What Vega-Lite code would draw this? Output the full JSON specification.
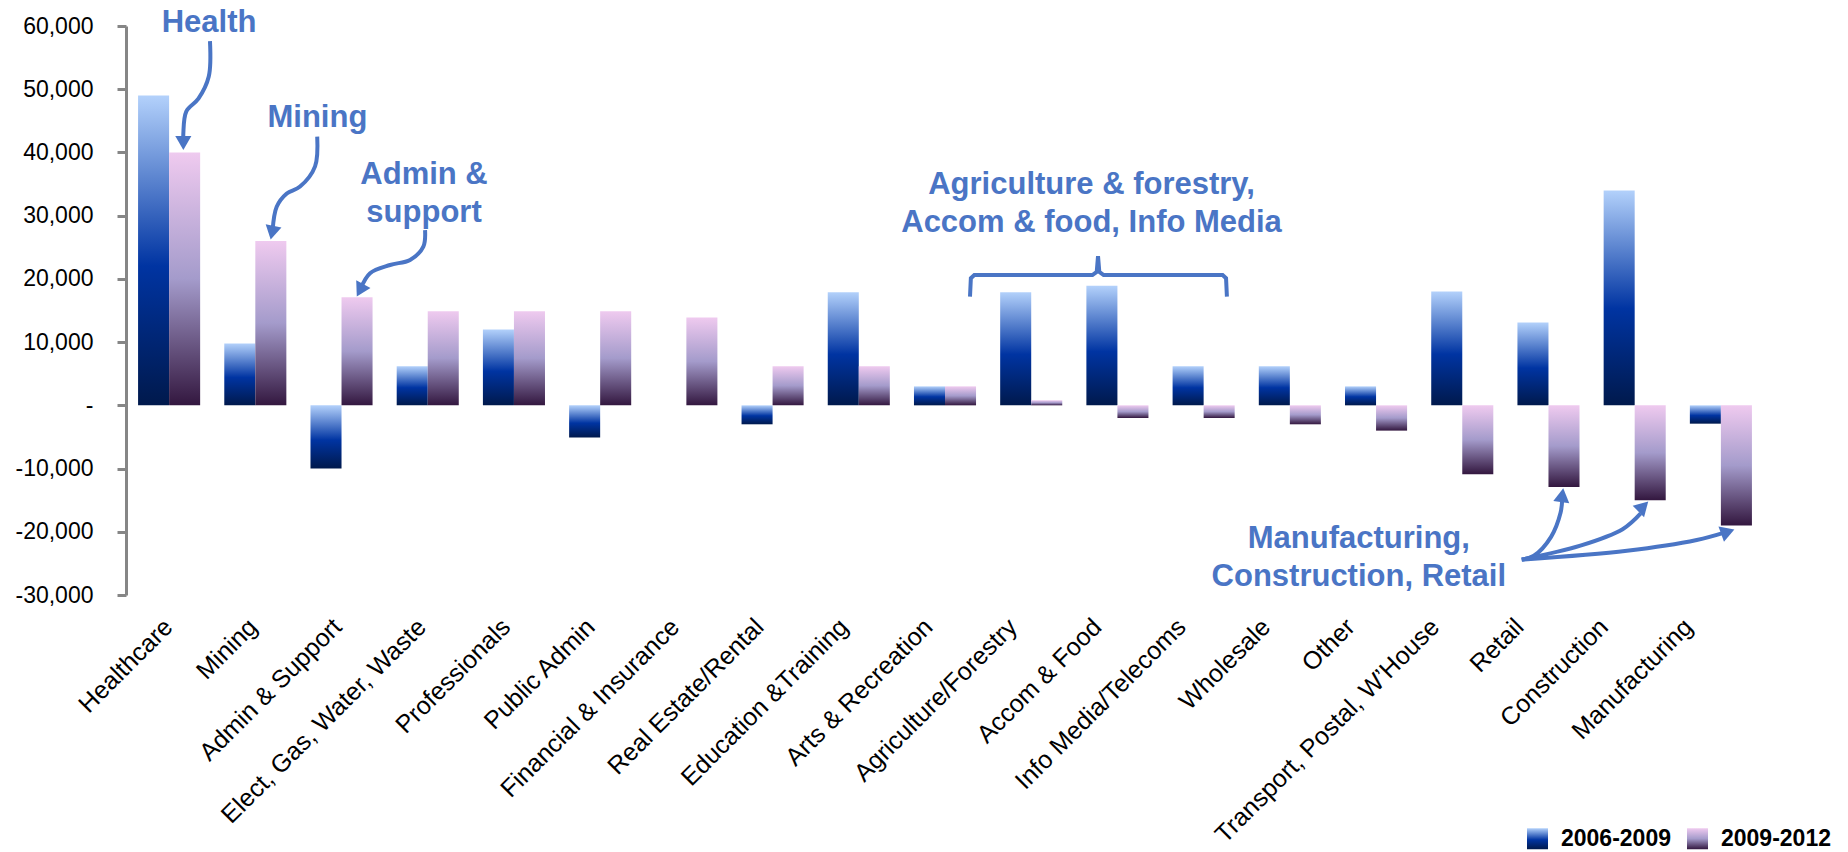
{
  "$schema": "https://vega.github.io/schema/vega-lite/v6.json",
  "width": 1638,
  "height": 569,
  "autosize": {"type": "none"},
  "padding": {"left": 126, "top": 26, "right": 84, "bottom": 257},
  "background": "white",
  "config": {"font": "Liberation Sans", "view": {"stroke": null}},
  "datasets": {
    "bars": [
      {"category": "Healthcare", "series": "2006-2009", "value": 49000},
      {"category": "Healthcare", "series": "2009-2012", "value": 40000},
      {"category": "Mining", "series": "2006-2009", "value": 9800},
      {"category": "Mining", "series": "2009-2012", "value": 26000},
      {"category": "Admin & Support", "series": "2006-2009", "value": -10000},
      {"category": "Admin & Support", "series": "2009-2012", "value": 17100},
      {"category": "Elect, Gas, Water, Waste", "series": "2006-2009", "value": 6200},
      {"category": "Elect, Gas, Water, Waste", "series": "2009-2012", "value": 14900},
      {"category": "Professionals", "series": "2006-2009", "value": 12000},
      {"category": "Professionals", "series": "2009-2012", "value": 14900},
      {"category": "Public Admin", "series": "2006-2009", "value": -5100},
      {"category": "Public Admin", "series": "2009-2012", "value": 14900},
      {"category": "Financial & Insurance", "series": "2006-2009", "value": 0},
      {"category": "Financial & Insurance", "series": "2009-2012", "value": 13900},
      {"category": "Real Estate/Rental", "series": "2006-2009", "value": -3000},
      {"category": "Real Estate/Rental", "series": "2009-2012", "value": 6200},
      {"category": "Education &Training", "series": "2006-2009", "value": 17900},
      {"category": "Education &Training", "series": "2009-2012", "value": 6200},
      {"category": "Arts & Recreation", "series": "2006-2009", "value": 3000},
      {"category": "Arts & Recreation", "series": "2009-2012", "value": 3000},
      {"category": "Agriculture/Forestry", "series": "2006-2009", "value": 17900},
      {"category": "Agriculture/Forestry", "series": "2009-2012", "value": 800},
      {"category": "Accom & Food", "series": "2006-2009", "value": 18900},
      {"category": "Accom & Food", "series": "2009-2012", "value": -2000},
      {"category": "Info Media/Telecoms", "series": "2006-2009", "value": 6200},
      {"category": "Info Media/Telecoms", "series": "2009-2012", "value": -2000},
      {"category": "Wholesale", "series": "2006-2009", "value": 6200},
      {"category": "Wholesale", "series": "2009-2012", "value": -3000},
      {"category": "Other", "series": "2006-2009", "value": 3000},
      {"category": "Other", "series": "2009-2012", "value": -4000},
      {"category": "Transport, Postal, W’House", "series": "2006-2009", "value": 18000},
      {"category": "Transport, Postal, W’House", "series": "2009-2012", "value": -10900},
      {"category": "Retail", "series": "2006-2009", "value": 13100},
      {"category": "Retail", "series": "2009-2012", "value": -12900},
      {"category": "Construction", "series": "2006-2009", "value": 34000},
      {"category": "Construction", "series": "2009-2012", "value": -15000},
      {"category": "Manufacturing", "series": "2006-2009", "value": -2900},
      {"category": "Manufacturing", "series": "2009-2012", "value": -19000}
    ],
    "arrows": [
      {"id": "health", "k": 0, "u": 0.974, "value": 57600},
      {"id": "health", "k": 1, "u": 0.96, "value": 52000},
      {"id": "health", "k": 2, "u": 0.84, "value": 48500},
      {"id": "health", "k": 3, "u": 0.70, "value": 46500},
      {"id": "health", "k": 4, "u": 0.665, "value": 43000},
      {"id": "health", "k": 5, "u": 0.665, "value": 41800},
      {"id": "mining", "k": 0, "u": 2.218, "value": 42500},
      {"id": "mining", "k": 1, "u": 2.193, "value": 37800},
      {"id": "mining", "k": 2, "u": 2.019, "value": 34600},
      {"id": "mining", "k": 3, "u": 1.865, "value": 33500},
      {"id": "mining", "k": 4, "u": 1.748, "value": 31400},
      {"id": "mining", "k": 5, "u": 1.70, "value": 27600},
      {"id": "admin", "k": 0, "u": 3.469, "value": 27700},
      {"id": "admin", "k": 1, "u": 3.449, "value": 25100},
      {"id": "admin", "k": 2, "u": 3.295, "value": 23000},
      {"id": "admin", "k": 3, "u": 3.063, "value": 22200},
      {"id": "admin", "k": 4, "u": 2.831, "value": 20900},
      {"id": "admin", "k": 5, "u": 2.72, "value": 18400},
      {"id": "retail", "k": 0, "u": 16.19, "value": -24400},
      {"id": "retail", "k": 1, "u": 16.33, "value": -23800},
      {"id": "retail", "k": 2, "u": 16.53, "value": -20800},
      {"id": "retail", "k": 3, "u": 16.64, "value": -17000},
      {"id": "retail", "k": 4, "u": 16.66, "value": -14700},
      {"id": "construction", "k": 0, "u": 16.19, "value": -24400},
      {"id": "construction", "k": 1, "u": 16.87, "value": -22200},
      {"id": "construction", "k": 2, "u": 17.36, "value": -19600},
      {"id": "construction", "k": 3, "u": 17.57, "value": -17100},
      {"id": "manufacturing", "k": 0, "u": 16.19, "value": -24400},
      {"id": "manufacturing", "k": 1, "u": 17.41, "value": -23000},
      {"id": "manufacturing", "k": 2, "u": 18.22, "value": -21300},
      {"id": "manufacturing", "k": 3, "u": 18.55, "value": -20100}
    ],
    "brace": [
      {"k": 0, "u": 9.79, "value": 17200},
      {"k": 1, "u": 9.80, "value": 20100},
      {"k": 2, "u": 9.84, "value": 20600},
      {"k": 3, "u": 11.21, "value": 20600},
      {"k": 4, "u": 11.26, "value": 21100},
      {"k": 5, "u": 11.275, "value": 23600},
      {"k": 6, "u": 11.29, "value": 21100},
      {"k": 7, "u": 11.34, "value": 20600},
      {"k": 8, "u": 12.72, "value": 20600},
      {"k": 9, "u": 12.76, "value": 20100},
      {"k": 10, "u": 12.77, "value": 17200}
    ],
    "heads": [
      {"u": 0.665, "value": 41500, "dir": 180},
      {"u": 1.695, "value": 27300, "dir": 192},
      {"u": 2.715, "value": 18200, "dir": 208},
      {"u": 16.66, "value": -14200, "dir": 8},
      {"u": 17.6, "value": -16000, "dir": 45},
      {"u": 18.58, "value": -20000, "dir": 70}
    ],
    "notes": [
      {"text": ["Health"], "u": 0.963, "value": 60500},
      {"text": ["Mining"], "u": 2.22, "value": 45500},
      {"text": ["Admin &", "support"], "u": 3.457, "value": 36500},
      {"text": ["Agriculture & forestry,", "Accom & food, Info Media"], "u": 11.2, "value": 34900},
      {"text": ["Manufacturing,", "Construction, Retail"], "u": 14.3, "value": -21100}
    ]
  },
  "encoding": {
    "y": {
      "field": "value",
      "type": "quantitative",
      "scale": {"domain": [-30000, 60000], "nice": false, "zero": false},
      "axis": {
        "title": null,
        "values": [-30000, -20000, -10000, 0, 10000, 20000, 30000, 40000, 50000, 60000],
        "labelExpr": "datum.value === 0 ? '-' : (datum.value < 0 ? '-' + format(-datum.value, ',') : format(datum.value, ','))",
        "labelFontSize": 23,
        "labelColor": "black",
        "labelPadding": 24,
        "domainColor": "#868686",
        "domainWidth": 3,
        "tickColor": "#868686",
        "tickWidth": 3,
        "tickSize": 9,
        "grid": false
      }
    }
  },
  "layer": [
    {
      "data": {"name": "bars"},
      "encoding": {
        "x": {
          "field": "category",
          "type": "nominal",
          "sort": null,
          "scale": {"paddingInner": 0.28, "paddingOuter": 0.14},
          "axis": {
            "title": null,
            "labelAngle": -45,
            "labelAlign": "right",
            "labelBaseline": "top",
            "labelFontSize": 25,
            "labelColor": "black",
            "domain": false,
            "ticks": false,
            "tickSize": 0,
            "labelPadding": 19,
            "labelLimit": 600,
            "labelOverlap": false,
            "encoding": {"labels": {
              "dx": {"value": {"expr": "-6.4 - 22.6 * datum.index"}},
              "dy": {"value": {"expr": "-6.4 - 22.6 * datum.index"}}
            }}
          }
        },
        "xOffset": {"field": "series", "type": "nominal", "scale": {"domain": ["2006-2009", "2009-2012"]}},
        "stroke": {
          "field": "series",
          "type": "nominal",
          "scale": {"domain": ["2006-2009", "2009-2012"], "range": ["#0034a2", "#a49bcb"]},
          "legend": {
            "title": null,
            "orient": "none",
            "legendX": 1400,
            "legendY": 801,
            "direction": "horizontal",
            "symbolType": "square",
            "symbolSize": 441,
            "symbolStrokeWidth": 0,
            "labelFontSize": 23,
            "labelFontWeight": "bold",
            "labelColor": "black",
            "labelOffset": 12,
            "columnPadding": 15,
            "encoding": {
              "symbols": {
                "fill": {"value": {"expr": "datum.value === '2006-2009' ? {id: 'legendBlueGrad', gradient: 'linear', x1: 0, y1: 0, x2: 0, y2: 1, stops: [{offset: 0, color: '#b3d1fb'}, {offset: 0.55, color: '#0034a2'}, {offset: 1, color: '#00194c'}]} : {id: 'legendPinkGrad', gradient: 'linear', x1: 0, y1: 0, x2: 0, y2: 1, stops: [{offset: 0, color: '#efcaef'}, {offset: 0.5, color: '#a49bcb'}, {offset: 1, color: '#33173f'}]}"}},
                "strokeWidth": {"value": 0}
              }
            }
          }
        }
      },
      "layer": [
        {
          "transform": [{"filter": "datum.series === '2006-2009'"}],
          "mark": {"type": "bar", "strokeWidth": 0, "fill": {"gradient": "linear", "x1": 0, "y1": 0, "x2": 0, "y2": 1, "stops": [
            {"offset": 0, "color": "#b3d1fb"},
            {"offset": 0.55, "color": "#0034a2"},
            {"offset": 1, "color": "#00194c"}
          ]}}
        },
        {
          "transform": [{"filter": "datum.series === '2009-2012'"}],
          "mark": {"type": "bar", "strokeWidth": 0, "fill": {"gradient": "linear", "x1": 0, "y1": 0, "x2": 0, "y2": 1, "stops": [
            {"offset": 0, "color": "#efcaef"},
            {"offset": 0.5, "color": "#a49bcb"},
            {"offset": 1, "color": "#33173f"}
          ]}}
        }
      ]
    },
    {
      "layer": [
        {
          "data": {"values": [{}]},
          "mark": {"type": "rule", "color": "black", "strokeWidth": 3.5},
          "encoding": {"y": {"datum": 0, "type": "quantitative"}}
        },
        {
          "data": {"name": "brace"},
          "mark": {"type": "line", "color": "#4a75c5", "strokeWidth": 4, "clip": false},
          "encoding": {
            "x": {"field": "u", "type": "quantitative", "scale": {"domain": [0, 19], "nice": false, "zero": false}, "axis": null},
            "order": {"field": "k"}
          }
        },
        {
          "data": {"name": "arrows"},
          "mark": {"type": "line", "color": "#4a75c5", "strokeWidth": 4, "interpolate": "catmull-rom", "clip": false},
          "encoding": {
            "x": {"field": "u", "type": "quantitative", "scale": {"domain": [0, 19], "nice": false, "zero": false}, "axis": null},
            "detail": {"field": "id"},
            "order": {"field": "k"}
          }
        },
        {
          "data": {"name": "heads"},
          "mark": {"type": "point", "shape": "triangle-up", "filled": true, "size": 260, "color": "#4a75c5", "opacity": 1, "clip": false},
          "encoding": {
            "x": {"field": "u", "type": "quantitative", "scale": {"domain": [0, 19], "nice": false, "zero": false}, "axis": null},
            "angle": {"field": "dir", "type": "quantitative", "scale": null}
          }
        },
        {
          "data": {"name": "notes"},
          "mark": {"type": "text", "fontSize": 31, "fontWeight": "bold", "color": "#4a75c5", "lineHeight": 38, "align": "center", "baseline": "middle", "clip": false},
          "encoding": {
            "x": {"field": "u", "type": "quantitative", "scale": {"domain": [0, 19], "nice": false, "zero": false}, "axis": null},
            "text": {"field": "text"}
          }
        }
      ]
    }
  ],
  "resolve": {"scale": {"x": "independent"}}
}
